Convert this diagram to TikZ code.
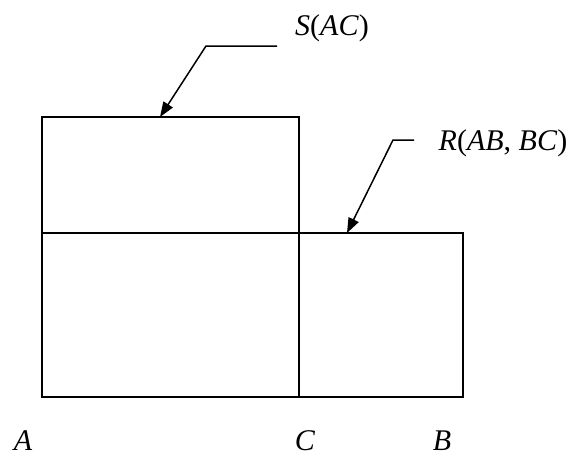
\documentclass[tikz,border=0pt]{standalone}
\usepackage{fontspec}
\setmainfont{Liberation Serif}
\usetikzlibrary{arrows.meta, positioning}

\tikzset{
  box/.style={draw=black, line width=1.6pt},
  pointer/.style={draw=black, line width=1.5pt, -{Triangle[length=15pt,width=11pt]}},
  lbl/.style={font=\fontsize{30}{36}\selectfont, inner sep=0pt, anchor=base}
}

\begin{document}
\begin{tikzpicture}[x=1pt, y=-1pt]
\useasboundingbox (0,0) rectangle (570,458);

% the three relations
\draw[box] (42,117) rectangle (299,233);
\draw[box] (42,233) rectangle (299,397);
\draw[box] (299,233) rectangle (463,397);

% where the arrows land
\coordinate (Stop) at (160,117);
\coordinate (Rtop) at (347,233);

% S(AC)
\node[lbl] (Slabel) at (332,35) {\textit{S}(\textit{AC})};
\coordinate (Send) at (277,46);
\coordinate (Sbend) at (206,46);
\draw[pointer] (Send) -- (Sbend) -- (Stop);

% R(AB, BC)
\node[lbl] (Rlabel) at (503,150) {\textit{R}(\textit{AB}, \textit{BC})};
\coordinate (Rend) at (414,140);
\coordinate (Rbend) at (393,140);
\draw[pointer] (Rend) -- (Rbend) -- (Rtop);

% attribute positions
\node[lbl] (A) at (23,450) {\textit{A}};
\node[lbl] (C) at (305,450) {\textit{C}};
\node[lbl] (B) at (442,450) {\textit{B}};

\end{tikzpicture}
\end{document}
